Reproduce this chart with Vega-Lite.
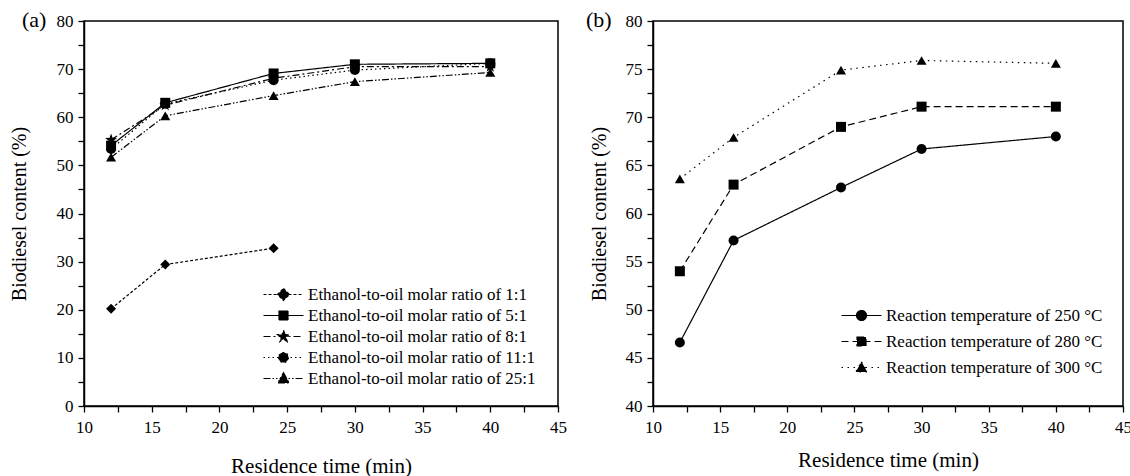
{
  "$schema": "https://vega.github.io/schema/vega-lite/v6.json",
  "padding": {"left": 8, "top": 8, "right": 5, "bottom": 0},
  "background": "white",
  "config": {
    "view": {"stroke": "black", "strokeWidth": 1.5},
    "font": "Liberation Serif, DejaVu Serif, serif",
    "axis": {
      "labelFont": "Liberation Serif, DejaVu Serif, serif", "titleFont": "Liberation Serif, DejaVu Serif, serif",
      "labelFontSize": 17, "titleFontSize": 20, "titleFontWeight": "normal",
      "labelColor": "black", "titleColor": "black", "domainColor": "black", "tickColor": "black",
      "domainWidth": 1.5, "tickWidth": 1.3, "tickSize": 6, "grid": false,
      "labelFlush": false, "labelOverlap": false, "labelPadding": 5
    },
    "legend": {"labelFont": "Liberation Serif, DejaVu Serif, serif", "labelFontSize": 17, "labelColor": "black", "labelLimit": 0},
    "title": {"font": "Liberation Serif, DejaVu Serif, serif", "fontSize": 22, "fontWeight": "normal", "color": "black"}
  },
  "datasets": {
    "a": [
      {"time": 12, "content": 20.2, "series": "1:1", "label": "Ethanol-to-oil molar ratio of 1:1"},
      {"time": 16, "content": 29.4, "series": "1:1", "label": "Ethanol-to-oil molar ratio of 1:1"},
      {"time": 24, "content": 32.8, "series": "1:1", "label": "Ethanol-to-oil molar ratio of 1:1"},
      {"time": 12, "content": 54.1, "series": "5:1", "label": "Ethanol-to-oil molar ratio of 5:1"},
      {"time": 16, "content": 63.0, "series": "5:1", "label": "Ethanol-to-oil molar ratio of 5:1"},
      {"time": 24, "content": 69.1, "series": "5:1", "label": "Ethanol-to-oil molar ratio of 5:1"},
      {"time": 30, "content": 71.0, "series": "5:1", "label": "Ethanol-to-oil molar ratio of 5:1"},
      {"time": 40, "content": 71.2, "series": "5:1", "label": "Ethanol-to-oil molar ratio of 5:1"},
      {"time": 12, "content": 55.3, "series": "8:1", "label": "Ethanol-to-oil molar ratio of 8:1"},
      {"time": 16, "content": 62.5, "series": "8:1", "label": "Ethanol-to-oil molar ratio of 8:1"},
      {"time": 24, "content": 68.1, "series": "8:1", "label": "Ethanol-to-oil molar ratio of 8:1"},
      {"time": 30, "content": 70.5, "series": "8:1", "label": "Ethanol-to-oil molar ratio of 8:1"},
      {"time": 40, "content": 70.5, "series": "8:1", "label": "Ethanol-to-oil molar ratio of 8:1"},
      {"time": 12, "content": 53.4, "series": "11:1", "label": "Ethanol-to-oil molar ratio of 11:1"},
      {"time": 16, "content": 62.8, "series": "11:1", "label": "Ethanol-to-oil molar ratio of 11:1"},
      {"time": 24, "content": 67.7, "series": "11:1", "label": "Ethanol-to-oil molar ratio of 11:1"},
      {"time": 30, "content": 69.8, "series": "11:1", "label": "Ethanol-to-oil molar ratio of 11:1"},
      {"time": 40, "content": 71.2, "series": "11:1", "label": "Ethanol-to-oil molar ratio of 11:1"},
      {"time": 12, "content": 51.7, "series": "25:1", "label": "Ethanol-to-oil molar ratio of 25:1"},
      {"time": 16, "content": 60.3, "series": "25:1", "label": "Ethanol-to-oil molar ratio of 25:1"},
      {"time": 24, "content": 64.5, "series": "25:1", "label": "Ethanol-to-oil molar ratio of 25:1"},
      {"time": 30, "content": 67.4, "series": "25:1", "label": "Ethanol-to-oil molar ratio of 25:1"},
      {"time": 40, "content": 69.3, "series": "25:1", "label": "Ethanol-to-oil molar ratio of 25:1"}
    ],
    "b": [
      {"time": 12, "content": 46.6, "series": "250", "label": "Reaction temperature of 250 °C"},
      {"time": 16, "content": 57.2, "series": "250", "label": "Reaction temperature of 250 °C"},
      {"time": 24, "content": 62.7, "series": "250", "label": "Reaction temperature of 250 °C"},
      {"time": 30, "content": 66.7, "series": "250", "label": "Reaction temperature of 250 °C"},
      {"time": 40, "content": 68.0, "series": "250", "label": "Reaction temperature of 250 °C"},
      {"time": 12, "content": 54.0, "series": "280", "label": "Reaction temperature of 280 °C"},
      {"time": 16, "content": 63.0, "series": "280", "label": "Reaction temperature of 280 °C"},
      {"time": 24, "content": 69.0, "series": "280", "label": "Reaction temperature of 280 °C"},
      {"time": 30, "content": 71.1, "series": "280", "label": "Reaction temperature of 280 °C"},
      {"time": 40, "content": 71.1, "series": "280", "label": "Reaction temperature of 280 °C"},
      {"time": 12, "content": 63.6, "series": "300", "label": "Reaction temperature of 300 °C"},
      {"time": 16, "content": 67.9, "series": "300", "label": "Reaction temperature of 300 °C"},
      {"time": 24, "content": 74.9, "series": "300", "label": "Reaction temperature of 300 °C"},
      {"time": 30, "content": 75.9, "series": "300", "label": "Reaction temperature of 300 °C"},
      {"time": 40, "content": 75.6, "series": "300", "label": "Reaction temperature of 300 °C"}
    ]
  },
  "spacing": 17,
  "resolve": {
    "scale": {"x": "independent", "y": "independent", "shape": "independent", "strokeDash": "independent", "opacity": "independent"},
    "legend": {"shape": "independent", "strokeDash": "independent", "opacity": "independent"}
  },
  "hconcat": [
    {
      "width": 474, "height": 385,
      "title": {"text": "(a)", "anchor": "start", "frame": "group", "offset": -20, "dx": -62},
      "data": {"name": "a"},
      "encoding": {
        "x": {"field": "time", "type": "quantitative", "scale": {"domain": [10, 45], "nice": false, "zero": false},
          "axis": {"title": "Residence time (min)", "titleFontSize": 21, "titlePadding": 20, "labelPadding": 7,
            "values": [10, 12.5, 15, 17.5, 20, 22.5, 25, 27.5, 30, 32.5, 35, 37.5, 40, 42.5, 45],
            "labelExpr": "datum.value % 5 === 0 ? format(datum.value, 'd') : ''",
            "encode": {"ticks": {"update": {"y2": {"signal": "datum.value % 5 === 0 ? 6 : 3"}}}}}},
        "y": {"field": "content", "type": "quantitative", "scale": {"domain": [0, 80], "nice": false},
          "axis": {"title": "Biodiesel content (%)", "titlePadding": 27,
            "values": [0, 5, 10, 15, 20, 25, 30, 35, 40, 45, 50, 55, 60, 65, 70, 75, 80],
            "labelExpr": "datum.value % 10 === 0 ? format(datum.value, 'd') : ''",
            "encode": {"ticks": {"update": {"x2": {"signal": "datum.value % 10 === 0 ? -6 : -3"}}}}}}
      },
      "layer": [
        {
          "mark": {"type": "line", "color": "black", "strokeWidth": 1.2},
          "encoding": {
            "strokeDash": {"field": "series", "type": "nominal",
              "scale": {"domain": ["1:1", "5:1", "8:1", "11:1", "25:1"],
                "range": [[3, 2], [1, 0], [7, 3, 2, 3], [1.5, 3], [7, 2, 1.5, 2, 1.5, 2]]},
              "legend": null},
            "opacity": {"field": "label", "type": "nominal",
              "scale": {"domain": ["Ethanol-to-oil molar ratio of 1:1", "Ethanol-to-oil molar ratio of 5:1", "Ethanol-to-oil molar ratio of 8:1", "Ethanol-to-oil molar ratio of 11:1", "Ethanol-to-oil molar ratio of 25:1"],
                "range": [1, 1, 1, 1, 1]},
              "legend": {
                "title": null, "orient": "none", "legendX": 191, "legendY": 265,
                "symbolSize": 100, "labelOffset": 16, "rowPadding": 3, "padding": 0, "labelLimit": 0,
                "symbolFillColor": "black", "symbolStrokeColor": "black", "symbolStrokeWidth": 1.2, "symbolOpacity": 1,
                "symbolType": {"expr": "['M-4,0L4,0M0,-1.2L1.2,0L0,1.2L-1.2,0Z', 'M-4,0L4,0M-0.9,-0.9H0.9V0.9H-0.9Z', 'M-4,0L4,0M0,-1.25L0.294,-0.405L1.189,-0.386L0.476,0.155L0.735,1.011L0,0.5L-0.735,1.011L-0.476,0.155L-1.189,-0.386L-0.294,-0.405Z', 'M-4,0L4,0M-1,0A1,1 0 1,0 1,0A1,1 0 1,0 -1,0Z', 'M-4,0L4,0M0,-1.15L1.15,0.9L-1.15,0.9Z'][datum.index]"},
                "symbolDash": {"expr": "[[3,2],[1,0],[7,3,2,3],[1.5,3],[7,2,1.5,2,1.5,2]][datum.index]"}
              }}
          }
        },
        {
          "mark": {"type": "point", "filled": true, "color": "black", "opacity": 1, "size": 100},
          "encoding": {
            "shape": {"field": "series", "type": "nominal",
              "scale": {"domain": ["1:1", "5:1", "8:1", "11:1", "25:1"],
                "range": ["diamond", "square", "M0,-1.25L0.294,-0.405L1.189,-0.386L0.476,0.155L0.735,1.011L0,0.5L-0.735,1.011L-0.476,0.155L-1.189,-0.386L-0.294,-0.405Z", "circle", "triangle-up"]},
              "legend": null}
          }
        }
      ]
    },
    {
      "width": 470, "height": 385,
      "title": {"text": "(b)", "anchor": "start", "frame": "group", "offset": -20, "dx": -67},
      "data": {"name": "b"},
      "encoding": {
        "x": {"field": "time", "type": "quantitative", "scale": {"domain": [10, 45], "nice": false, "zero": false},
          "axis": {"title": "Residence time (min)", "titleFontSize": 21, "titlePadding": 14, "labelPadding": 7,
            "values": [10, 12.5, 15, 17.5, 20, 22.5, 25, 27.5, 30, 32.5, 35, 37.5, 40, 42.5, 45],
            "labelExpr": "datum.value % 5 === 0 ? format(datum.value, 'd') : ''",
            "encode": {"ticks": {"update": {"y2": {"signal": "datum.value % 5 === 0 ? 6 : 3"}}}}}},
        "y": {"field": "content", "type": "quantitative", "scale": {"domain": [40, 80], "nice": false, "zero": false},
          "axis": {"title": "Biodiesel content (%)", "titlePadding": 16,
            "values": [40, 42.5, 45, 47.5, 50, 52.5, 55, 57.5, 60, 62.5, 65, 67.5, 70, 72.5, 75, 77.5, 80],
            "labelExpr": "datum.value % 5 === 0 ? format(datum.value, 'd') : ''",
            "encode": {"ticks": {"update": {"x2": {"signal": "datum.value % 5 === 0 ? -6 : -3"}}}}}}
      },
      "layer": [
        {
          "mark": {"type": "line", "color": "black", "strokeWidth": 1.2},
          "encoding": {
            "strokeDash": {"field": "series", "type": "nominal",
              "scale": {"domain": ["250", "280", "300"], "range": [[1, 0], [7, 4], [1.5, 4.5]]},
              "legend": null},
            "opacity": {"field": "label", "type": "nominal",
              "scale": {"domain": ["Reaction temperature of 250 °C", "Reaction temperature of 280 °C", "Reaction temperature of 300 °C"],
                "range": [1, 1, 1]},
              "legend": {
                "title": null, "orient": "none", "legendX": 200, "legendY": 286,
                "symbolSize": 100, "labelOffset": 16, "rowPadding": 8, "padding": 0, "labelLimit": 0,
                "symbolFillColor": "black", "symbolStrokeColor": "black", "symbolStrokeWidth": 1.2, "symbolOpacity": 1,
                "symbolType": {"expr": "['M-4,0L4,0M-1,0A1,1 0 1,0 1,0A1,1 0 1,0 -1,0Z', 'M-4,0L4,0M-0.9,-0.9H0.9V0.9H-0.9Z', 'M-4,0L4,0M0,-1.15L1.15,0.9L-1.15,0.9Z'][datum.index]"},
                "symbolDash": {"expr": "[[1,0],[7,4],[1.5,4.5]][datum.index]"}
              }}
          }
        },
        {
          "mark": {"type": "point", "filled": true, "color": "black", "opacity": 1, "size": 100},
          "encoding": {
            "shape": {"field": "series", "type": "nominal",
              "scale": {"domain": ["250", "280", "300"], "range": ["circle", "square", "triangle-up"]},
              "legend": null}
          }
        }
      ]
    }
  ]
}
